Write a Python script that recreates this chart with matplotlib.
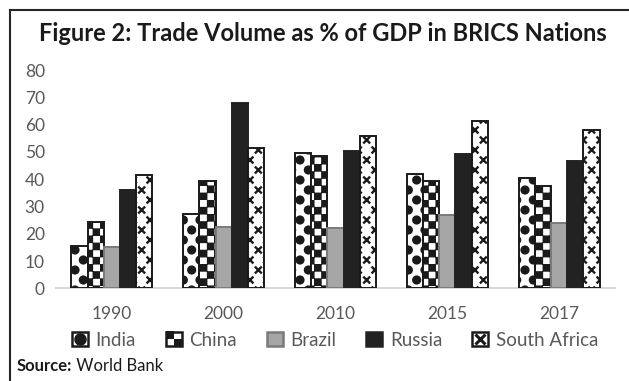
import numpy as np
import matplotlib
matplotlib.use('Agg')
import matplotlib.pyplot as plt
import matplotlib.hatch as mhatch
from matplotlib.path import Path
from matplotlib.lines import Line2D
from matplotlib.patches import Patch
from matplotlib.legend_handler import HandlerTuple

# ---------------- data ----------------
years = ['1990', '2000', '2010', '2015', '2017']
countries = ['India', 'China', 'Brazil', 'Russia', 'South Africa']
india = [15.6, 27.1, 49.5, 41.9, 40.5]
china = [24.2, 39.2, 48.6, 39.3, 37.6]
brazil = [15.2, 22.6, 22.2, 27.0, 24.0]
russia = [36.0, 68.0, 50.4, 49.1, 46.8]
south_africa = [41.5, 51.3, 55.7, 61.3, 58.0]
yticks = [0, 10, 20, 30, 40, 50, 60, 70, 80]

title = 'Figure 2: Trade Volume as % of GDP in BRICS Nations'

# ---------------- custom pattern fills ----------------
def _lattice(ncols, nrows):
    pts = []
    for r in range(nrows + 1):
        y = r / nrows
        if r % 2 == 0:
            xs = np.arange(ncols + 1) / ncols
        else:
            xs = (np.arange(ncols) + 0.5) / ncols
        for xx in xs:
            pts.append((xx, y))
    return np.array(pts)


class DotHatch(mhatch.HatchPatternBase):
    def __init__(self, hatch, density):
        circ = Path.unit_circle()
        self.cv, self.cc = circ.vertices, circ.codes
        self.centers = _lattice(6, 10) if 'o' in hatch else np.empty((0, 2))
        self.num_vertices = len(self.centers) * len(self.cv)

    def set_vertices_and_codes(self, vertices, codes):
        r = 0.034
        vertices[:] = np.concatenate([self.cv * r + c for c in self.centers])
        codes[:] = np.tile(self.cc, len(self.centers))


class CheckerHatch(mhatch.HatchPatternBase):
    n = 14

    def __init__(self, hatch, density):
        self.on = '*' in hatch
        self.cells = [(i, j) for i in range(self.n) for j in range(self.n)
                      if (i + j) % 2 == 0] if self.on else []
        self.num_vertices = 5 * len(self.cells)

    def set_vertices_and_codes(self, vertices, codes):
        s = 1.0 / self.n
        h = s / 2 - 0.009
        vs = []
        for i, j in self.cells:
            cx, cy = (i + 0.5) * s, (j + 0.5) * s
            vs.append([[cx - h, cy - h], [cx + h, cy - h], [cx + h, cy + h],
                       [cx - h, cy + h], [cx - h, cy - h]])
        vertices[:] = np.concatenate(vs)
        codes[:] = np.tile([Path.MOVETO, Path.LINETO, Path.LINETO,
                            Path.LINETO, Path.CLOSEPOLY], len(self.cells))


class CrossHatch(mhatch.HatchPatternBase):
    def __init__(self, hatch, density):
        self.centers = _lattice(6, 10) if 'x' in hatch else np.empty((0, 2))
        self.num_vertices = 4 * len(self.centers)

    def set_vertices_and_codes(self, vertices, codes):
        a = 0.026
        vs = []
        for cx, cy in self.centers:
            vs.append([[cx - a, cy - a], [cx + a, cy + a],
                       [cx - a, cy + a], [cx + a, cy - a]])
        vertices[:] = np.concatenate(vs)
        codes[:] = np.tile([Path.MOVETO, Path.LINETO, Path.MOVETO, Path.LINETO],
                           len(self.centers))


mhatch._hatch_types[:] = [DotHatch, CheckerHatch, CrossHatch]

plt.rcParams['font.family'] = ['Lato', 'DejaVu Sans']
plt.rcParams['hatch.linewidth'] = 1.7
plt.rcParams['hatch.color'] = 'black'

# ---------------- figure ----------------
W, H = 629, 381
fig = plt.figure(figsize=(W / 100, H / 100), dpi=100)

ax = fig.add_axes([56 / W, 1 - 288.3 / H, (615 - 56) / W, (288.3 - 70.1) / H])
x = np.arange(len(years))
bw = 0.145
series = [
    (india, 'white', '#1a1a1a', 'o'),
    (china, 'white', '#1a1a1a', '*'),
    (brazil, '#a6a6a6', '#7a7a7a', None),
    (russia, '#222222', '#222222', None),
    (south_africa, 'white', '#1a1a1a', 'x'),
]
for k, (vals, fc, ec, h) in enumerate(series):
    ax.bar(x + (k - 2) * bw, vals, bw, facecolor=fc, edgecolor=ec,
           hatch=h, linewidth=1.4, label=countries[k], zorder=2)

ax.set_xlim(-0.5, len(years) - 0.5)
ax.set_ylim(0, 80)
ax.set_yticks(yticks)
ax.set_xticks(x)
ax.set_xticklabels(years)
for s in ['top', 'right', 'left']:
    ax.spines[s].set_visible(False)
ax.spines['bottom'].set_color('#d9d9d9')
ax.spines['bottom'].set_linewidth(1.5)
ax.spines['bottom'].set_zorder(1)
ax.tick_params(axis='both', length=0, labelsize=12.5, labelcolor='#595959')
ax.tick_params(axis='y', pad=8)
ax.tick_params(axis='x', pad=13)

# title
fig.text(323 / W, 1 - 41 / H, title, ha='center', va='baseline',
         fontsize=17, fontweight='bold', color='#1a1a1a')

# legend handles (box + symbol)
checker = Path([(-1, 0), (0, 0), (0, 1), (-1, 1), (-1, 0),
                (0, -1), (1, -1), (1, 0), (0, 0), (0, -1)],
               [Path.MOVETO, Path.LINETO, Path.LINETO, Path.LINETO, Path.CLOSEPOLY,
                Path.MOVETO, Path.LINETO, Path.LINETO, Path.LINETO, Path.CLOSEPOLY])
box = dict(facecolor='white', edgecolor='#1a1a1a', linewidth=1.8)
h_india = (Patch(**box), Line2D([], [], marker='o', markersize=8, color='#1a1a1a', linestyle='None'))
h_china = (Patch(**box), Line2D([], [], marker=checker, markersize=11, color='#1a1a1a',
                                markeredgewidth=0, linestyle='None'))
h_brazil = Patch(facecolor='#a6a6a6', edgecolor='#7a7a7a', linewidth=1.8)
h_russia = Patch(facecolor='#222222', edgecolor='#222222', linewidth=1.8)
h_sa = (Patch(**box), Line2D([], [], marker='x', markersize=7.5, markeredgewidth=2.2,
                             color='#1a1a1a', linestyle='None'))
fig.legend([h_india, h_china, h_brazil, h_russia, h_sa], countries,
           handler_map={tuple: HandlerTuple(ndivide=1, pad=0)},
           loc='center', bbox_to_anchor=(335 / W, 1 - 340 / H),
           ncol=5, frameon=False, handlelength=0.85, handleheight=0.85,
           handletextpad=0.4, columnspacing=1.6, fontsize=13.5,
           labelcolor='#595959', borderpad=0, borderaxespad=0)

# source
t1 = fig.text(17 / W, 1 - 371 / H, 'Source:', ha='left', va='baseline',
              fontsize=12, fontweight='bold', color='#1a1a1a')
ax.annotate(' World Bank', xy=(1, 0), xycoords=t1, ha='left', va='bottom',
            fontsize=12, color='#1a1a1a', annotation_clip=False)

# frame (top and left edges)
fig.add_artist(Line2D([10 / W, 10 / W], [0, 1 - 10 / H], transform=fig.transFigure,
                      color='#262626', linewidth=1.5))
fig.add_artist(Line2D([10 / W, 1], [1 - 10 / H, 1 - 10 / H], transform=fig.transFigure,
                      color='#262626', linewidth=1.5))

fig.savefig('out.png', dpi=100)
